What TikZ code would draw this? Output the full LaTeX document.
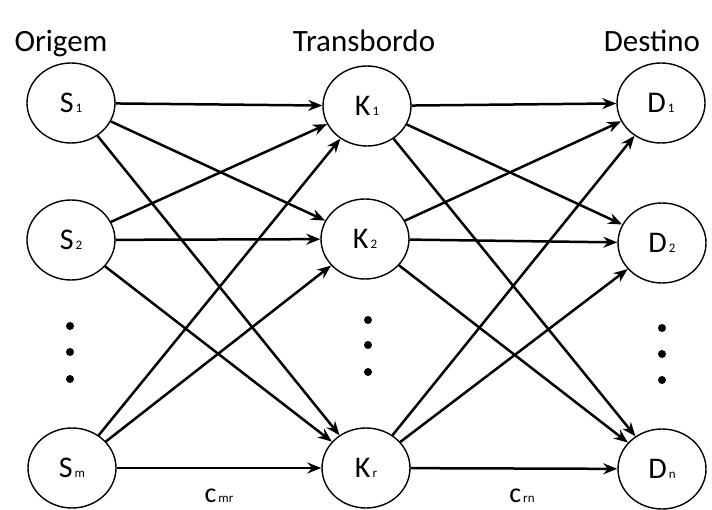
\documentclass[tikz,border=0pt]{standalone}
\usepackage{fontspec}
\setmainfont{Carlito}
\usetikzlibrary{shapes.geometric,arrows.meta}
\newcommand{\nlab}[2]{{\fontsize{30}{30}\selectfont #1}\hspace{2pt}{\fontsize{13}{13}\selectfont #2}}
\newcommand{\clab}[2]{{\fontsize{28}{28}\selectfont #1}\hspace{2pt}{\fontsize{13}{13}\selectfont #2}}
\begin{document}
\begin{tikzpicture}[x=1pt,y=-1pt,
  place/.style={draw,ellipse,line width=1.4pt,minimum width=88pt,minimum height=80pt,inner sep=0pt,fill=white},
  title/.style={font=\fontsize{31}{31}\selectfont,anchor=base},
  flow/.style={line width=2.5pt,-{Stealth[length=14pt,width=11pt]}},
  dotmark/.style={circle,fill=black,inner sep=0pt,minimum size=8pt}]
\useasboundingbox (0,0) rectangle (712,510);
\node[title] (to) at (61,52) {Origem};
\node[title] (tt) at (364,52) {Transbordo};
\node[title] (td) at (652,52) {Destino};
\node[place] (s1) at (71,103) {\nlab{S}{1}};
\node[place] (s2) at (71,240) {\nlab{S}{2}};
\node[place] (sm) at (72,468) {\nlab{S}{m}};
\node[place] (k1) at (367,106) {\nlab{K}{1}};
\node[place] (k2) at (365,239) {\nlab{K}{2}};
\node[place] (kr) at (366,468) {\nlab{K}{r}};
\node[place] (d1) at (661,103) {\nlab{D}{1}};
\node[place] (d2) at (662,243) {\nlab{D}{2}};
\node[place] (dn) at (662,469) {\nlab{D}{n}};
\foreach \a in {s1,s2,sm}{\foreach \b in {k1,k2,kr}{\draw[flow] (\a) -- (\b);}}
\foreach \a in {k1,k2,kr}{\foreach \b in {d1,d2,dn}{\draw[flow] (\a) -- (\b);}}
\node[dotmark] (ds1) at (70,326) {};
\node[dotmark] (ds2) at (70,352) {};
\node[dotmark] (ds3) at (70,379) {};
\node[dotmark] (dk1) at (368,320) {};
\node[dotmark] (dk2) at (368,345) {};
\node[dotmark] (dk3) at (368,372) {};
\node[dotmark] (dd1) at (662,328) {};
\node[dotmark] (dd2) at (662,354) {};
\node[dotmark] (dd3) at (662,380) {};
\node[anchor=base] (cmr) at (219,502) {\clab{c}{mr}};
\node[anchor=base] (crn) at (522,502) {\clab{c}{rn}};
\end{tikzpicture}
\end{document}
